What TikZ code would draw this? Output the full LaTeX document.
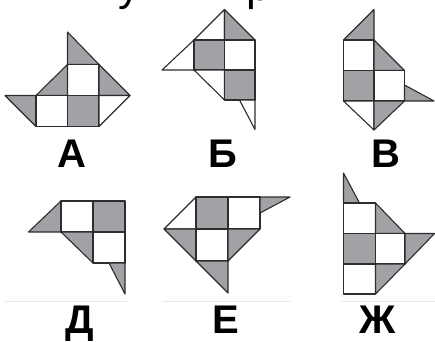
\documentclass[tikz,border=0pt]{standalone}
\usepackage{fontspec}
\setmainfont{Liberation Sans}
\definecolor{fillg}{RGB}{161,161,166}
\definecolor{edge}{RGB}{45,45,45}
\definecolor{sepc}{RGB}{232,232,232}
\begin{document}
\begin{tikzpicture}[x=1pt,y=-1pt,
  g/.style={fill=fillg,draw=edge,line width=1.1pt,line join=round},
  w/.style={fill=white,draw=edge,line width=1.1pt,line join=round},
  lbl/.style={font=\fontsize{40}{40}\selectfont\bfseries,anchor=base,inner sep=0pt},
  frag/.style={font=\fontsize{44}{44}\selectfont,anchor=base west,inner sep=0pt},
  sepline/.style={draw=sepc,line width=0.8pt}]
\useasboundingbox (0,0) rectangle (435,341);
\begin{scope}
\clip (0,0) rectangle (435,341);
% fragments of cut-off text at the top
\node[frag] (fu) at (118,0) {у};
\node[frag] (fr) at (246,0) {р};
% A
\draw[g] (67.5,32) -- (67.5,64.5) -- (99,64.5) -- cycle;
\draw[w] (67.5,64.5) rectangle (99,95.5);
\draw[g] (99,64.5) -- (99,95.5) -- (130,95.5) -- cycle;
\draw[g] (67.5,64.5) -- (67.5,95.5) -- (36,95.5) -- cycle;
\draw[g] (5,95.5) -- (36,95.5) -- (36,126.5) -- cycle;
\draw[w] (36,95.5) rectangle (67.5,126.5);
\draw[g] (67.5,95.5) rectangle (99,126.5);
\draw[w] (99,95.5) -- (130,95.5) -- (99,126.5) -- cycle;
% B (Б)
\draw[w] (224.5,9.5) -- (194,40) -- (224.5,40) -- cycle;
\draw[g] (224.5,9.5) -- (224.5,40) -- (255,40) -- cycle;
\draw[w] (194,40) -- (194,70) -- (162,70) -- cycle;
\draw[g] (194,40) rectangle (224.5,70);
\draw[w] (224.5,40) rectangle (255,70);
\draw[w] (194,70) -- (224.5,70) -- (224.5,100) -- cycle;
\draw[g] (224.5,70) rectangle (255,100);
\draw[w] (239.5,100) -- (255,100) -- (255,129.5) -- cycle;
% V (В)
\draw[g] (374,9.5) -- (374,40) -- (343.5,40) -- cycle;
\draw[w] (343.5,40) rectangle (374,70.5);
\draw[g] (374,40) -- (404.5,70.5) -- (374,70.5) -- cycle;
\draw[g] (343.5,70.5) rectangle (374,101);
\draw[w] (374,70.5) rectangle (404.5,101);
\draw[g] (404.5,85) -- (434,101) -- (404.5,101) -- cycle;
\draw[w] (343.5,101) -- (374,101) -- (374,130) -- cycle;
\draw[g] (374,101) -- (404.5,101) -- (374,130) -- cycle;
% D (Д)
\draw[g] (61,201) -- (61,232) -- (28.5,232) -- cycle;
\draw[w] (61,201) rectangle (93,232);
\draw[g] (93,201) rectangle (125,232);
\draw[g] (61,232) -- (93,232) -- (93,263) -- cycle;
\draw[w] (93,232) rectangle (125,263);
\draw[g] (109,263) -- (125,263) -- (125,294) -- cycle;
% E (Е)
\draw[w] (196,197) -- (196,229) -- (164,229) -- cycle;
\draw[g] (196,197) rectangle (228,229);
\draw[w] (228,197) rectangle (260,229);
\draw[g] (260,197) -- (290,197) -- (260,213) -- cycle;
\draw[g] (164,229) -- (196,229) -- (196,261) -- cycle;
\draw[w] (196,229) rectangle (228,261);
\draw[g] (228,229) -- (260,229) -- (228,261) -- cycle;
\draw[g] (196,261) -- (228,261) -- (228,293) -- cycle;
% Zh (Ж)
\draw[g] (343.5,173) -- (359.5,203) -- (343.5,203) -- cycle;
\draw[w] (343.5,203) rectangle (375.5,233.5);
\draw[g] (375.5,203) -- (405,233.5) -- (375.5,233.5) -- cycle;
\draw[g] (343.5,233.5) rectangle (375.5,264);
\draw[w] (375.5,233.5) rectangle (405,264);
\draw[g] (405,233.5) -- (434.5,233.5) -- (405,264) -- cycle;
\draw[w] (343.5,264) rectangle (375.5,294);
\draw[g] (375.5,264) -- (405,264) -- (375.5,294) -- cycle;
% separators
\draw[sepline] (5,301.5) -- (127,301.5);
\draw[sepline] (162,301.5) -- (290,301.5);
\draw[sepline] (342,301.5) -- (435,301.5);
% labels
\node[lbl] (la) at (72,167) {А};
\node[lbl] (lb) at (223,167) {Б};
\node[lbl] (lv) at (385.5,167) {В};
\node[lbl] (ld) at (80,333) {Д};
\node[lbl] (le) at (226,333) {Е};
\node[lbl] (lz) at (378,333) {Ж};
\end{scope}
\end{tikzpicture}
\end{document}
